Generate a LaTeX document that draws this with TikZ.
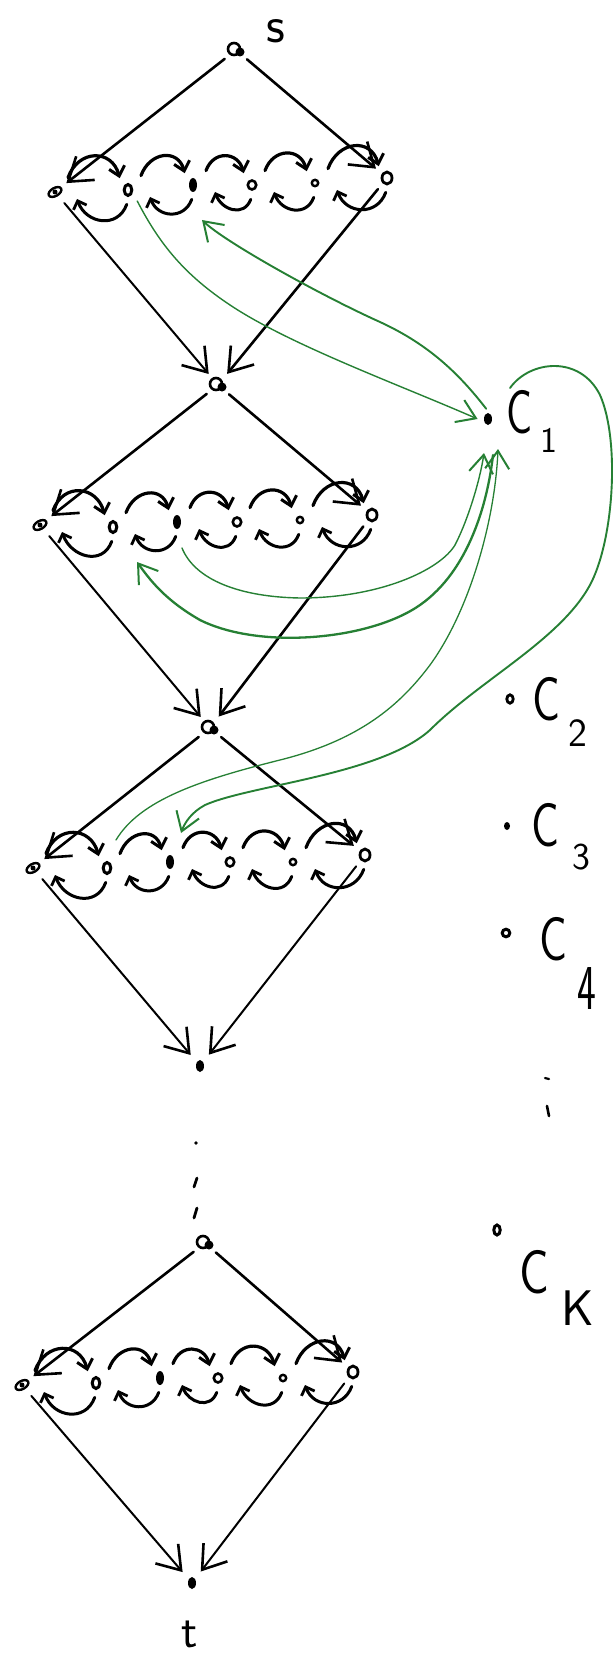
\documentclass[tikz,border=0pt]{standalone}
\usepackage{graphicx}
\usetikzlibrary{arrows.meta}
\definecolor{inkgreen}{RGB}{38,128,52}
\tikzset{
  vtx/.style={circle, inner sep=0pt, minimum size=14pt},
  cvtx/.style={circle, inner sep=0pt, minimum size=10pt},
  mainarrow/.style={line width=1.3pt, line cap=round, -{Straight Barb[length=11pt,width=15pt,line width=1.3pt]}},
  lowerarrow/.style={line width=1.0pt, line cap=round, -{Straight Barb[length=11pt,width=15pt,line width=1.3pt]}},
  fwdarc/.style={line width=1.6pt, line cap=round, -{Straight Barb[length=4.5pt,width=8pt,line width=1.5pt]}},
  backarc/.style={line width=1.5pt, line cap=round, -{Straight Barb[length=3.5pt,width=7pt,line width=1.4pt]}},
  greenlink/.style={inkgreen, line cap=round, -{Straight Barb[length=9pt,width=12pt,line width=1pt]}},
  lbl/.style={inner sep=0pt, font=\sffamily},
}
\begin{document}
\begin{tikzpicture}[x=0.5pt,y=0.5pt]
\fill[white] (0,0) rectangle (613,-1669);
\useasboundingbox (0,0) rectangle (613,-1669);

% ---- top / merge vertices ----
\node[vtx] (s)  at (236,-50)   {};
\node[vtx] (m1) at (218,-385)  {};
\node[vtx] (m2) at (210,-728)  {};
\node[vtx] (m3) at (200,-1066) {};
\node[vtx] (m4) at (205,-1243) {};
\node[vtx] (t)  at (192,-1583) {};

% ---- gadget rows ----
\node[vtx] (r1-a) at (55,-192)  {};
\node[vtx] (r1-b) at (128,-190) {};
\node[vtx] (r1-c) at (193,-185) {};
\node[vtx] (r1-d) at (252,-185) {};
\node[vtx] (r1-e) at (315,-183) {};
\node[vtx] (r1-f) at (387,-178) {};

\node[vtx] (r2-a) at (40,-525)  {};
\node[vtx] (r2-b) at (113,-527) {};
\node[vtx] (r2-c) at (177,-522) {};
\node[vtx] (r2-d) at (237,-522) {};
\node[vtx] (r2-e) at (300,-520) {};
\node[vtx] (r2-f) at (372,-515) {};

\node[vtx] (r3-a) at (33,-868)  {};
\node[vtx] (r3-b) at (107,-868) {};
\node[vtx] (r3-c) at (170,-862) {};
\node[vtx] (r3-d) at (230,-862) {};
\node[vtx] (r3-e) at (293,-862) {};
\node[vtx] (r3-f) at (365,-855) {};

\node[vtx] (r4-a) at (22,-1385)  {};
\node[vtx] (r4-b) at (96,-1383)  {};
\node[vtx] (r4-c) at (160,-1378) {};
\node[vtx] (r4-d) at (218,-1378) {};
\node[vtx] (r4-e) at (283,-1378) {};
\node[vtx] (r4-f) at (353,-1372) {};

% ---- clause vertices ----
\node[cvtx] (C1) at (488,-419)  {};
\node[cvtx] (C2) at (510,-699)  {};
\node[cvtx] (C3) at (507,-826)  {};
\node[cvtx] (C4) at (506,-933)  {};
\node[cvtx] (CK) at (497,-1230) {};

% ---- labels ----
\node[lbl] (slab) at (276,-31) {\fontsize{26}{28}\selectfont s};
\node[lbl] (tlab) at (190,-1634) {\fontsize{24}{26}\selectfont t};
\node[lbl] (c1C) at (520,-412) {\fontsize{31}{33}\selectfont\scalebox{0.7}[1]{C}};
\node[lbl] (c1i) at (549,-440) {\fontsize{18}{20}\selectfont 1};
\node[lbl] (c2C) at (546,-699) {\fontsize{31}{33}\selectfont\scalebox{0.75}[1]{C}};
\node[lbl] (c2i) at (578,-733) {\fontsize{20}{22}\selectfont 2};
\node[lbl] (c3C) at (545,-825) {\fontsize{31}{33}\selectfont\scalebox{0.75}[1]{C}};
\node[lbl] (c3i) at (581,-857) {\fontsize{19}{21}\selectfont 3};
\node[lbl] (c4C) at (553,-939) {\fontsize{31}{33}\selectfont\scalebox{0.75}[1]{C}};
\node[lbl] (c4i) at (587,-988) {\fontsize{20}{22}\selectfont\scalebox{1}[1.6]{4}};
\node[lbl] (ckC) at (534,-1272) {\fontsize{31}{33}\selectfont\scalebox{0.8}[1]{C}};
\node[lbl] (cki) at (578,-1308) {\fontsize{25}{27}\selectfont K};

% ---- vertex marks ----
\foreach \n in {s,m1,m2,m4} {
  \draw[line width=1.3pt, shift={(\n)}] (-2,1) circle (6);
  \fill[shift={(\n)}] (4,-2) circle (4.5);
}
\fill (m3) ellipse (4 and 6);
\fill (t) ellipse (4 and 6);
\foreach \rw in {1,2,3,4} {
  \draw[line width=1.2pt, rotate around={30:(r\rw-a)}] (r\rw-a) ellipse (7 and 4);
  \fill (r\rw-a) circle (2.5);
  \draw[line width=1.5pt] (r\rw-b) ellipse (3.8 and 5.5);
  \fill (r\rw-c) ellipse (4 and 7);
  \draw[line width=1.3pt] (r\rw-d) ellipse (4.2 and 4.5);
  \draw[line width=1.2pt] (r\rw-e) circle (3.2);
  \draw[line width=1.4pt] (r\rw-f) ellipse (5 and 6);
}
\fill (C1) ellipse (4 and 6);
\draw[line width=1.4pt] (C2) ellipse (3.2 and 4.2);
\fill (C3) ellipse (3 and 4);
\draw[line width=1.5pt] (C4) ellipse (3.8 and 3.8);
\draw[line width=1.5pt] (CK) ellipse (3.2 and 5);

% ---- vertical ellipses ----
\fill (196,-1143) circle (1.8);
\draw[line width=1.4pt, line cap=round] (197,-1178) -- (194,-1187);
\draw[line width=1.4pt, line cap=round] (197,-1208) -- (194,-1218);
\draw[line width=1.1pt, line cap=round] (545,-1078) -- (549,-1079);
\draw[line width=1.3pt, line cap=round] (547,-1106) -- (549,-1116);

% ---- diamond edges ----
\draw[mainarrow]  (s)    -- (r1-a);
\draw[mainarrow]  (s)    -- (r1-f);
\draw[lowerarrow] (r1-a) -- (m1);
\draw[mainarrow]  (r1-f) -- (m1);
\draw[mainarrow]  (m1)   -- (r2-a);
\draw[mainarrow]  (m1)   -- (r2-f);
\draw[lowerarrow] (r2-a) -- (m2);
\draw[mainarrow]  (r2-f) -- (m2);
\draw[mainarrow]  (m2)   -- (r3-a);
\draw[mainarrow]  (m2)   -- (r3-f);
\draw[lowerarrow] (r3-a) -- (m3);
\draw[lowerarrow] (r3-f) -- (m3);
\draw[mainarrow]  (m4)   -- (r4-a);
\draw[mainarrow]  (m4)   -- (r4-f);
\draw[lowerarrow] (r4-a) -- (t);
\draw[lowerarrow] (r4-f) -- (t);

% ---- chains inside each row: forward humps above, backward dips below ----
\foreach \rw in {1,2,3,4} {
  \foreach \p/\q in {a/b,b/c,c/d,d/e,e/f} {
    \draw[fwdarc]  ([xshift=6.5pt]r\rw-\p.north) to[out=70,in=105,looseness=1.5] (r\rw-\q.125);
    \draw[backarc] (r\rw-\q.265) to[out=250,in=290,looseness=1.35] ([xshift=11pt,yshift=-3.5pt]r\rw-\p.center);
  }
}

% ---- clause links ----
\coordinate (g2e) at (202,-220);
\coordinate (g3s) at (182,-548);
\coordinate (g3e) at (484,-453);
\coordinate (g4s) at (493,-455);
\coordinate (g4e) at (137,-562);
\coordinate (g5s) at (116,-840);
\coordinate (g5e) at (498,-449);
\coordinate (g6s) at (510,-388);
\coordinate (g6e) at (181,-833);

\draw[greenlink, line width=0.7pt] (r1-b.-50) .. controls (160,-245) and (185,-275) .. (230,-305)
   .. controls (290,-345) and (400,-385) .. (C1.west);
\draw[greenlink, line width=0.95pt] (C1.100) .. controls (460,-375) and (430,-345) .. (380,-322)
   .. controls (320,-295) and (225,-242) .. (g2e);
\draw[greenlink, line width=0.7pt] (g3s) .. controls (195,-580) and (240,-597) .. (300,-598)
   .. controls (380,-598) and (440,-570) .. (455,-545)
   .. controls (468,-520) and (480,-480) .. (g3e);
\draw[greenlink, line width=1.15pt] (g4s) .. controls (488,-500) and (470,-570) .. (420,-605)
   .. controls (370,-640) and (260,-650) .. (200,-620)
   .. controls (165,-600) and (150,-580) .. (g4e);
\draw[greenlink, line width=0.65pt] (g5s) .. controls (140,-800) and (200,-780) .. (280,-760)
   .. controls (360,-740) and (400,-705) .. (430,-665)
   .. controls (470,-610) and (495,-520) .. (g5e);
\draw[greenlink, line width=0.95pt] (g6s) .. controls (530,-360) and (580,-355) .. (600,-395)
   .. controls (620,-440) and (614,-540) .. (590,-585)
   .. controls (560,-640) and (480,-680) .. (430,-730)
   .. controls (380,-775) and (250,-785) .. (205,-805)
   .. controls (192,-812) and (185,-822) .. (g6e);
\end{tikzpicture}
\end{document}
